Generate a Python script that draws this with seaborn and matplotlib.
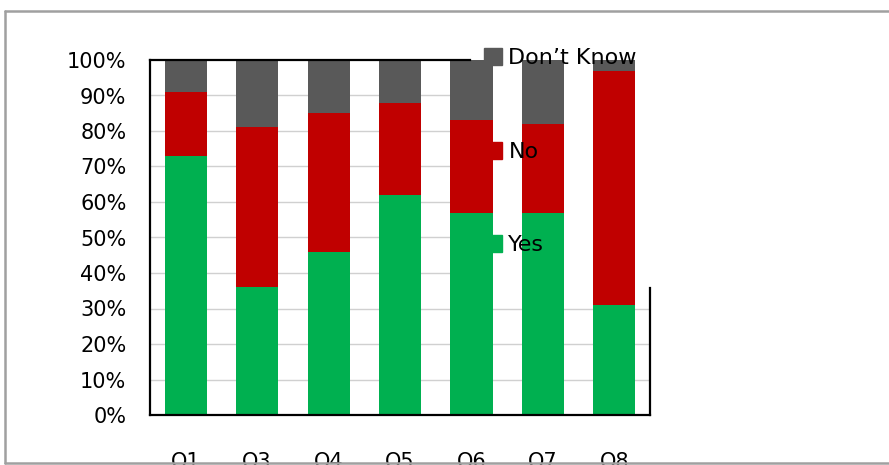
import matplotlib
matplotlib.use("Agg")
import matplotlib.pyplot as plt
from matplotlib.lines import Line2D
from matplotlib.patches import Patch
import seaborn as sns
import pandas as pd
import numpy as np

# Survey answers per question (percent of respondents)
questions = ["Q1", "Q3", "Q4", "Q5", "Q6", "Q7", "Q8"]
yes = [73, 36, 46, 62, 57, 57, 31]
no = [18, 45, 39, 26, 26, 25, 66]
dont_know = [9, 19, 15, 12, 17, 18, 3]
y_ticks = [0, 10, 20, 30, 40, 50, 60, 70, 80, 90, 100]
y_tick_labels = ["0%", "10%", "20%", "30%", "40%", "50%", "60%", "70%", "80%", "90%", "100%"]

GREEN = "#00B050"
RED = "#C00000"
GREY = "#595959"

df = pd.DataFrame({"question": questions, "yes": yes, "no": no, "dk": dont_know})
df["yes_no"] = df["yes"] + df["no"]
df["total"] = df["yes_no"] + df["dk"]

sns.set_style("white")
plt.rcParams["font.family"] = ["DejaVu Sans"]
plt.rcParams["text.color"] = "black"
plt.rcParams["xtick.labelcolor"] = "black"
plt.rcParams["ytick.labelcolor"] = "black"

W, H = 889, 465
fig = plt.figure(figsize=(W / 100, H / 100), dpi=100)
ax = fig.add_axes([150 / W, 1 - 415 / H, 500 / W, 355 / H])

bar_w = 0.59
bar_kw = dict(width=bar_w, saturation=1, ax=ax, zorder=2, linewidth=0, edgecolor="none")
# stacked bars: draw cumulative totals back to front
sns.barplot(data=df, x="question", y="total", color=GREY, **bar_kw)
sns.barplot(data=df, x="question", y="yes_no", color=RED, **bar_kw)
sns.barplot(data=df, x="question", y="yes", color=GREEN, **bar_kw)

ax.set_xlim(-0.5, 6.5)
ax.set_ylim(0, 100)
ax.set_xlabel("")
ax.set_ylabel("")

legend_left = -0.5 + (470 - 150) * 7 / 500
right_top = (415 - 288) / 3.55

# horizontal gridlines, hidden behind the legend area on the right
for v in y_ticks[1:-1]:
    x_end = 6.5 if v < right_top else legend_left
    ax.plot([-0.5, x_end], [v, v], color="#D0D0D0", lw=1.0, zorder=0.5, solid_capstyle="butt")

# axes frame
for side in ["left", "bottom", "top", "right"]:
    ax.spines[side].set_visible(True)
    ax.spines[side].set_color("black")
    ax.spines[side].set_linewidth(1.6)
ax.spines["top"].set_bounds(-0.5, legend_left)
ax.spines["right"].set_bounds(0, right_top)

ax.set_yticks(y_ticks)
ax.set_yticklabels(y_tick_labels, fontsize=15)
ax.tick_params(axis="y", direction="out", length=6, width=1.2, color="#A6A6A6", pad=11)

ax.set_xticks(range(len(questions)))
ax.set_xticklabels(questions, fontsize=15)
ax.set_xticks(np.arange(-0.5, len(questions), 1.0), minor=True)
ax.tick_params(axis="x", which="major", length=0, pad=26)
ax.tick_params(axis="x", which="minor", direction="out", length=7, width=1.2, color="#404040")

handles = [Patch(color=GREY), Patch(color=RED), Patch(color=GREEN)]
labels = ["Don\u2019t Know", "No", "Yes"]
leg = ax.legend(handles, labels, loc="upper left",
                bbox_to_anchor=(484 / W, 1 - 48 / H), bbox_transform=fig.transFigure,
                frameon=False, fontsize=16, borderpad=0, borderaxespad=0,
                handlelength=0.8, handleheight=0.8, handletextpad=0.3, labelspacing=3.3)
leg.set_zorder(5)

# outer chart border
frame_kw = dict(color="#A0A0A0", lw=1.8, transform=fig.transFigure, zorder=10)
fig.add_artist(Line2D([5 / W, 5 / W], [1 - 463 / H, 1 - 11 / H], **frame_kw))
fig.add_artist(Line2D([5 / W, 1], [1 - 11 / H, 1 - 11 / H], **frame_kw))
fig.add_artist(Line2D([5 / W, 1], [1 - 463 / H, 1 - 463 / H], **frame_kw))

fig.savefig("out.png", dpi=100)
